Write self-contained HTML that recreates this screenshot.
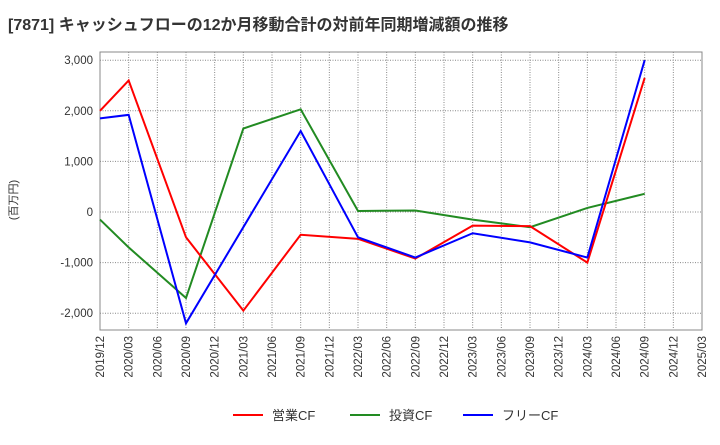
<!DOCTYPE html>
<html><head><meta charset="utf-8"><style>
body{margin:0;background:#fff;font-family:"Liberation Sans","Noto Sans CJK JP",sans-serif;}
</style></head><body>
<svg width="720" height="440" xmlns="http://www.w3.org/2000/svg" font-family="Liberation Sans, Noto Sans CJK JP, sans-serif">
<text x="8" y="30" font-size="16" font-weight="bold" fill="#333">[7871]  キャッシュフローの12か月移動合計の対前年同期増減額の推移</text>
<text transform="translate(17,200) rotate(-90)" text-anchor="middle" font-size="11" fill="#333">(百万円)</text>
<g id="grid"></g><g id="axes"></g><g id="series"></g>
<g>
<line x1="233" y1="415" x2="263" y2="415" stroke="#f00" stroke-width="2"/><text x="272" y="420" font-size="13" fill="#333">営業CF</text>
<line x1="350" y1="415" x2="380" y2="415" stroke="#228B22" stroke-width="2"/><text x="389" y="420" font-size="13" fill="#333">投資CF</text>
<line x1="463" y1="415" x2="493" y2="415" stroke="#00f" stroke-width="2"/><text x="502" y="420" font-size="13" fill="#333">フリーCF</text>
</g>
</svg>
<script>
const categories=["2019/12","2020/03","2020/06","2020/09","2020/12","2021/03","2021/06","2021/09","2021/12","2022/03","2022/06","2022/09","2022/12","2023/03","2023/06","2023/09","2023/12","2024/03","2024/06","2024/09","2024/12","2025/03"];
const yTicks=[3000,2000,1000,0,-1000,-2000];
const seriesIdx=[0,1,3,5,7,9,11,13,15,17,19];
const operatingCF=[2000,2600,-500,-1950,-450,-530,-920,-270,-280,-1000,2650];
const investingCF=[-150,-700,-1700,1650,2030,20,30,-150,-300,80,360];
const freeCF=[1850,1920,-2200,-300,1600,-500,-900,-420,-600,-900,3000];
const L=100,R=702,T=52,B=330;
const x=i=>L+(R-L)*i/(categories.length-1);
const y=v=>212-v*0.0506;
const NS="http://www.w3.org/2000/svg";
function mk(tag,attrs,parent){const e=document.createElementNS(NS,tag);for(const k in attrs)e.setAttribute(k,attrs[k]);document.getElementById(parent).appendChild(e);return e;}
categories.forEach((c,i)=>{
 const l=mk('line',{x1:x(i),x2:x(i),y1:T,y2:B,stroke:'#888','stroke-dasharray':'1,1.5'},'grid');
 
 
 const t=mk('text',{transform:`translate(${x(i)+4},336) rotate(-90)`,'text-anchor':'end','font-size':'11.5',fill:'#333'},'axes');
 t.textContent=c;
 
 
});
yTicks.forEach(v=>{
 const l=mk('line',{x1:L,x2:R,y1:y(v),y2:y(v),stroke:'#888','stroke-dasharray':'1,1.5'},'grid');
 
 
 const t=mk('text',{x:L-7,y:y(v)+4,'text-anchor':'end','font-size':'11.5',fill:'#333'},'axes');
 t.textContent=v.toLocaleString('en-US');
 
 
});
const fr=mk('rect',{x:L,y:T,width:R-L,height:B-T,fill:'none',stroke:'#888'},'axes');


function line(vals,color,name){
 const p=mk('polyline',{points:vals.map((v,k)=>x(seriesIdx[k])+','+y(v)).join(' '),fill:'none',stroke:color,'stroke-width':2},'series');
 
 
}
line(investingCF,'#228B22','investing-cf-line');
line(operatingCF,'#f00','operating-cf-line');
line(freeCF,'#00f','free-cf-line');
</script>
</body></html>
